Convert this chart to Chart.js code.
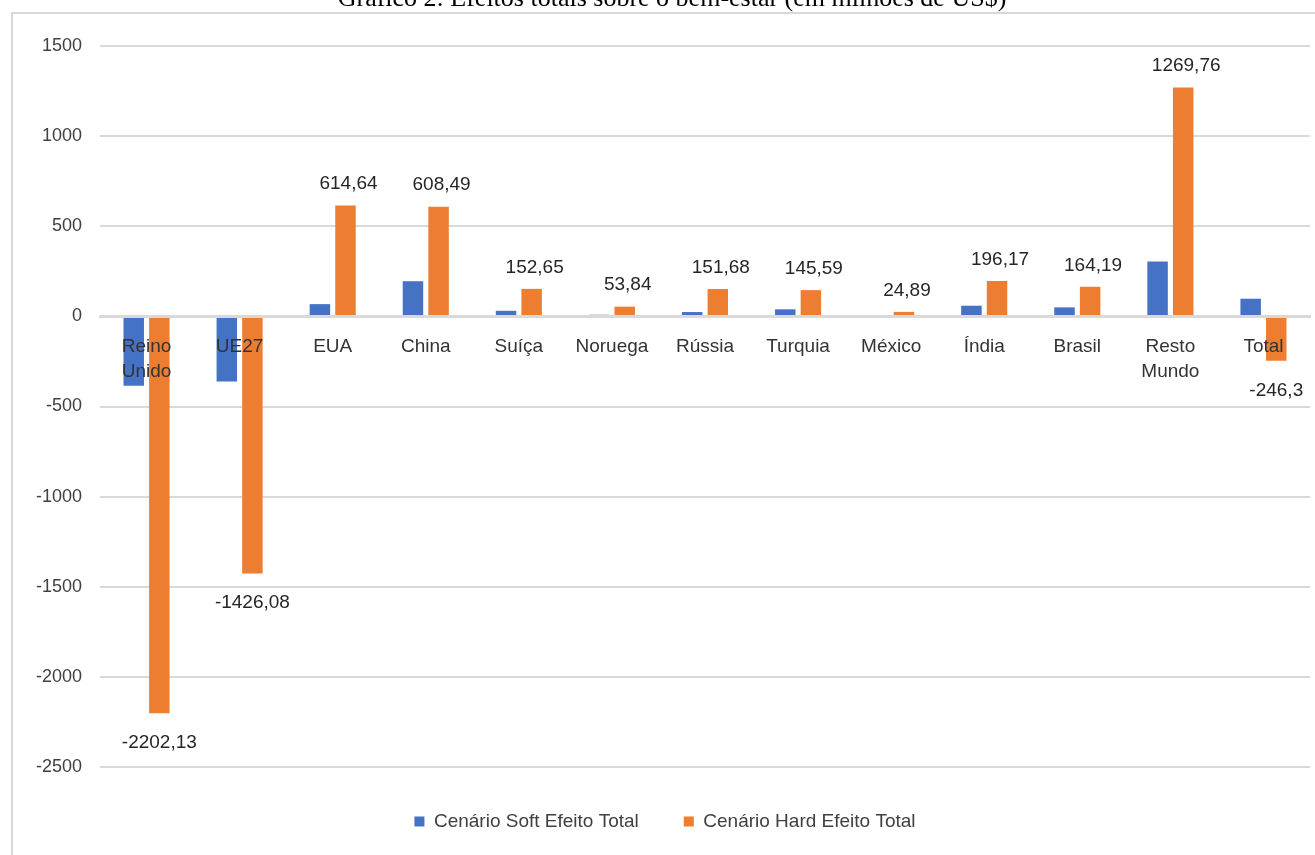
<!DOCTYPE html>
<html>
<head>
<meta charset="utf-8">
<script src="https://cdn.jsdelivr.net/npm/chart.js@4.4.1/dist/chart.umd.min.js"></script>
<style>
  body { margin: 0; background: #fff; }
  #wrap { width: 1315px; height: 855px; position: relative; }
</style>
</head>
<body>
<div id="wrap"><canvas id="bemEstarChart"></canvas></div>
<script>
const categories = [['Reino', 'Unido'], 'UE27', 'EUA', 'China', 'Suíça', 'Noruega', 'Rússia',
    'Turquia', 'México', 'Índia', 'Brasil', ['Resto', 'Mundo'], 'Total'];
const softValues = [-385, -361, 68, 195, 31, 9, 24, 39, 2, 59, 50, 305, 98];
const hardValues = [-2202.13, -1426.08, 614.64, 608.49, 152.65, 53.84, 151.68, 145.59, 24.89,
    196.17, 164.19, 1269.76, -246.3];
const yTicks = [1500, 1000, 500, 0, -500, -1000, -1500, -2000, -2500];
const chartTitle = 'Gráfico 2: Efeitos totais sobre o bem-estar (em milhões de US$)';

const textFont = '"Liberation Sans Narrow", "Arial Narrow", "Liberation Sans", Arial, sans-serif';

// frame + cut-off title, like the scanned page
const framePlugin = {
    id: 'frame',
    beforeDraw(chart) {
        const ctx = chart.ctx;
        ctx.save();
        ctx.strokeStyle = '#d9d9d9';
        ctx.lineWidth = 2;
        ctx.strokeRect(12, 13, 1320, 860);
        ctx.fillStyle = '#000';
        ctx.font = '26px "Liberation Serif", "Times New Roman", serif';
        ctx.textAlign = 'center';
        ctx.textBaseline = 'alphabetic';
        ctx.fillText(chartTitle, 672, 6);
        ctx.restore();
    }
};

// value labels for the hard scenario only
const valueLabels = {
    id: 'valueLabels',
    afterDatasetsDraw(chart) {
        const ctx = chart.ctx;
        const meta = chart.getDatasetMeta(1);
        ctx.save();
        ctx.font = '19px ' + textFont;
        ctx.fillStyle = '#262626';
        ctx.textAlign = 'center';
        meta.data.forEach((bar, i) => {
            const v = hardValues[i];
            const txt = String(v).replace('.', ',');
            if (v >= 0) {
                ctx.textBaseline = 'bottom';
                ctx.fillText(txt, bar.x + 3, bar.y - 12);
            } else {
                ctx.textBaseline = 'top';
                ctx.fillText(txt, bar.x, bar.y + 20);
            }
        });
        ctx.restore();
    }
};

const ctx = document.getElementById('bemEstarChart').getContext('2d');
const myChart = new Chart(ctx, {
    type: 'bar',
    data: {
        labels: categories,
        datasets: [{
            label: 'Cenário Soft Efeito Total',
            data: softValues,
            backgroundColor: '#4472C4',
            categoryPercentage: 0.55,
            barPercentage: 0.8
        }, {
            label: 'Cenário Hard Efeito Total',
            data: hardValues,
            backgroundColor: '#ED7D31',
            categoryPercentage: 0.55,
            barPercentage: 0.8
        }]
    },
    options: {
        responsive: true,
        maintainAspectRatio: false,
        animation: false,
        layout: {
            padding: { left: 20, right: 5, top: 46, bottom: 14 }
        },
        plugins: {
            legend: {
                position: 'bottom',
                labels: {
                    boxWidth: 10,
                    boxHeight: 10,
                    color: '#404040',
                    font: { family: textFont, size: 19 },
                    padding: 45
                }
            },
            tooltip: { enabled: false }
        },
        scales: {
            x: {
                position: { y: 0 },
                grid: { display: false, drawTicks: false },
                border: { color: '#d9d9d9', width: 3, z: 1 },
                ticks: {
                    z: 1,
                    color: '#333333',
                    padding: 18,
                    maxRotation: 0,
                    autoSkip: false,
                    font: { family: textFont, size: 19, lineHeight: 1.3 }
                }
            },
            y: {
                min: -2500,
                max: 1500,
                afterBuildTicks(scale) {
                    scale.ticks = yTicks.map(v => ({ value: v }));
                },
                afterFit(scale) {
                    scale.width = 80;
                },
                grid: { color: '#d9d9d9', lineWidth: 2, drawTicks: false },
                border: { display: false },
                ticks: {
                    color: '#404040',
                    padding: 18,
                    font: { family: textFont, size: 18 },
                    callback: v => String(v)
                }
            }
        }
    },
    plugins: [framePlugin, valueLabels]
});
</script>
</body>
</html>
